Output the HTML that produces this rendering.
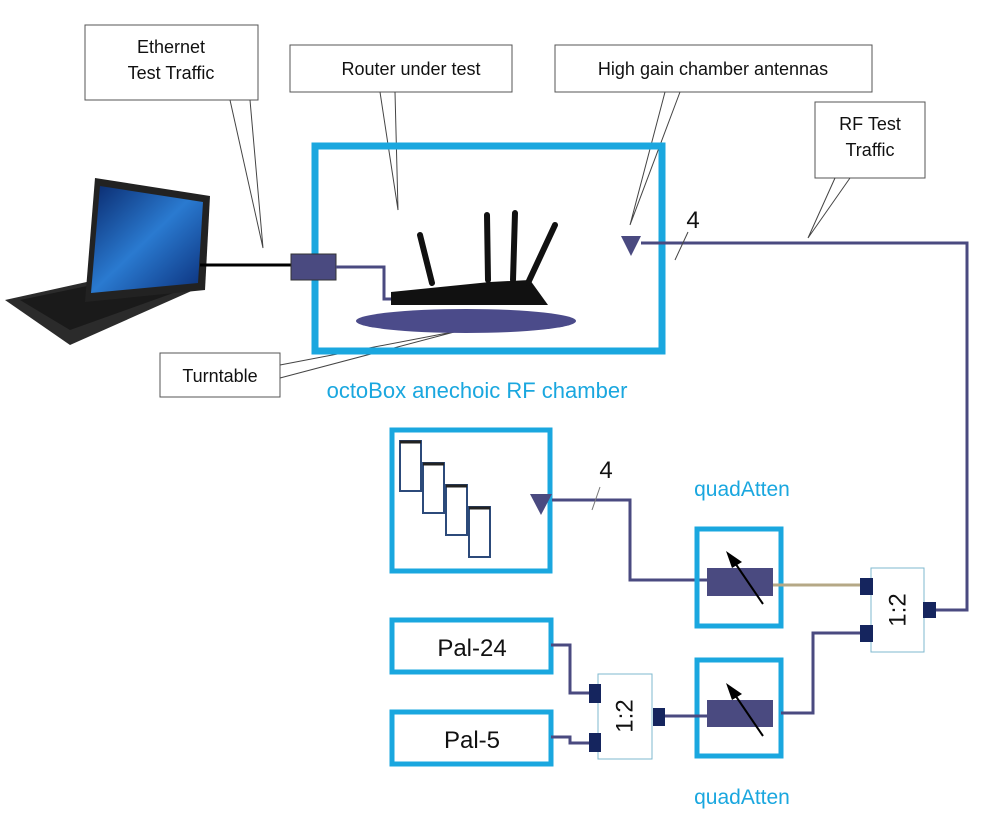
<!DOCTYPE html>
<html><head><meta charset="utf-8"><style>
body{margin:0;background:#fff}
svg{display:block}
text{font-family:"Liberation Sans",sans-serif}
</style></head><body>
<svg width="1000" height="821" viewBox="0 0 1000 821" xmlns="http://www.w3.org/2000/svg">
<defs>
<linearGradient id="scr" x1="0" y1="0" x2="1" y2="1"><stop offset="0" stop-color="#0a2a6e"/><stop offset="0.5" stop-color="#2a7ad0"/><stop offset="1" stop-color="#0b2f7a"/></linearGradient>
</defs>
<!-- callout boxes -->
<g fill="#fff" stroke="#555" stroke-width="1">
<rect x="85" y="25" width="173" height="75"/>
<rect x="290" y="45" width="222" height="47"/>
<rect x="555" y="45" width="317" height="47"/>
<rect x="815" y="102" width="110" height="76"/>
<rect x="160" y="353" width="120" height="44"/>
</g>
<g stroke="#444" stroke-width="1" fill="none">
<polyline points="230,100 263,248 250,100"/>
<polyline points="380,92 398,210 395,92"/>
<polyline points="680,92 630,225 665,92"/>
<polyline points="835,178 808,238 850,178"/>
<polyline points="280,365 458,331 280,378"/>
</g>
<g font-size="18" fill="#111" text-anchor="middle">
<text x="171" y="53">Ethernet</text><text x="171" y="79">Test Traffic</text>
<text x="411" y="75">Router under test</text>
<text x="713" y="75">High gain chamber antennas</text>
<text x="870" y="130">RF Test</text><text x="870" y="156">Traffic</text>
<text x="220" y="382">Turntable</text>
</g>
<!-- laptop -->
<polygon points="5,300 150,268 205,285 70,345" fill="#2b2b2b"/>
<polygon points="20,300 140,275 190,287 70,330" fill="#1a1a1a"/>
<polygon points="95,178 210,196 205,290 85,302" fill="#222"/>
<polygon points="100,186 203,202 198,283 91,293" fill="url(#scr)"/>
<!-- chamber -->
<rect x="315" y="146" width="347" height="205" fill="none" stroke="#1aa7df" stroke-width="7"/>
<text x="477" y="398" font-size="22" fill="#1aa7df" text-anchor="middle">octoBox anechoic RF chamber</text>
<line x1="200" y1="265" x2="292" y2="265" stroke="#000" stroke-width="3"/>
<rect x="291" y="254" width="45" height="26" fill="#4a4a80" stroke="#333"/>
<polyline points="336,267 384,267 384,299 393,299" fill="none" stroke="#4a4a80" stroke-width="3"/>
<ellipse cx="466" cy="321" rx="110" ry="12" fill="#4b4b8a"/>
<!-- router -->
<polygon points="391,292 490,282 530,280 548,305 391,305" fill="#111"/>
<g stroke="#111" stroke-width="6" stroke-linecap="round">
<line x1="420" y1="235" x2="432" y2="283"/>
<line x1="487" y1="215" x2="488" y2="280"/>
<line x1="515" y1="213" x2="513" y2="280"/>
<line x1="555" y1="225" x2="528" y2="283"/>
</g>
<!-- antenna + RF line -->
<polygon points="621,236 641,236 631,256" fill="#4a4a80"/>
<polyline points="641,243 967,243 967,610 935,610" fill="none" stroke="#4a4a80" stroke-width="3"/>
<text x="693" y="228" font-size="24" fill="#111" text-anchor="middle">4</text>
<line x1="675" y1="260" x2="688" y2="232" stroke="#444"/>
<!-- phones box -->
<rect x="392" y="430" width="158" height="141" fill="none" stroke="#1aa7df" stroke-width="5"/>
<g fill="#fff" stroke="#2c4a7a" stroke-width="2">
<rect x="400" y="441" width="21" height="50"/>
<rect x="423" y="463" width="21" height="50"/>
<rect x="446" y="485" width="21" height="50"/>
<rect x="469" y="507" width="21" height="50"/>
</g>
<g stroke="#222" stroke-width="3"><line x1="400" y1="442" x2="421" y2="442"/><line x1="423" y1="464" x2="444" y2="464"/><line x1="446" y1="486" x2="467" y2="486"/><line x1="469" y1="508" x2="490" y2="508"/></g>
<polygon points="530,494 552,494 541,515" fill="#4a4a80"/>
<polyline points="552,500 630,500 630,580 707,580" fill="none" stroke="#4a4a80" stroke-width="3"/>
<text x="606" y="478" font-size="24" fill="#111" text-anchor="middle">4</text>
<line x1="592" y1="510" x2="600" y2="487" stroke="#777"/>
<!-- quadAtten labels -->
<text x="742" y="496" font-size="21" fill="#1aa7df" text-anchor="middle">quadAtten</text>
<text x="742" y="804" font-size="21" fill="#1aa7df" text-anchor="middle">quadAtten</text>
<!-- atten boxes -->
<rect x="697" y="529" width="84" height="97" fill="none" stroke="#1aa7df" stroke-width="5"/>
<rect x="697" y="660" width="84" height="96" fill="none" stroke="#1aa7df" stroke-width="5"/>
<rect x="707" y="568" width="66" height="28" fill="#4a4a80"/>
<rect x="707" y="700" width="66" height="27" fill="#4a4a80"/>
<g stroke="#000" stroke-width="2"><line x1="763" y1="604" x2="733" y2="560"/><line x1="763" y1="736" x2="733" y2="692"/></g>
<polygon points="726,551 742,562 732,568" fill="#000"/>
<polygon points="726,683 742,694 732,700" fill="#000"/>
<line x1="773" y1="585" x2="862" y2="585" stroke="#b5a886" stroke-width="3"/>
<!-- splitter 1 -->
<rect x="871" y="568" width="53" height="84" fill="#fff" stroke="#7fb9cf"/>
<text transform="translate(898,610) rotate(-90)" font-size="24" fill="#111" text-anchor="middle" dominant-baseline="central">1:2</text>
<polyline points="862,633 813,633 813,713 781,713" fill="none" stroke="#4a4a80" stroke-width="3"/>
<g fill="#15255e"><rect x="860" y="578" width="13" height="17"/><rect x="860" y="625" width="13" height="17"/><rect x="923" y="602" width="13" height="16"/></g>
<!-- Pal boxes -->
<rect x="392" y="620" width="159" height="52" fill="#fff" stroke="#1aa7df" stroke-width="5"/>
<rect x="392" y="712" width="159" height="52" fill="#fff" stroke="#1aa7df" stroke-width="5"/>
<text x="472" y="656" font-size="24" fill="#111" text-anchor="middle">Pal-24</text>
<text x="472" y="748" font-size="24" fill="#111" text-anchor="middle">Pal-5</text>
<!-- splitter 2 -->
<rect x="598" y="674" width="54" height="85" fill="#fff" stroke="#7fb9cf"/>
<text transform="translate(625,716) rotate(-90)" font-size="24" fill="#111" text-anchor="middle" dominant-baseline="central">1:2</text>
<g fill="none" stroke="#4a4a80" stroke-width="3">
<polyline points="551,645 570,645 570,693 590,693"/>
<polyline points="551,737 570,737 570,743 590,743"/>
<polyline points="665,716 707,716"/>
</g>
<g fill="#15255e"><rect x="589" y="684" width="12" height="19"/><rect x="589" y="733" width="12" height="19"/><rect x="653" y="708" width="12" height="18"/></g>
</svg>
</body></html>
